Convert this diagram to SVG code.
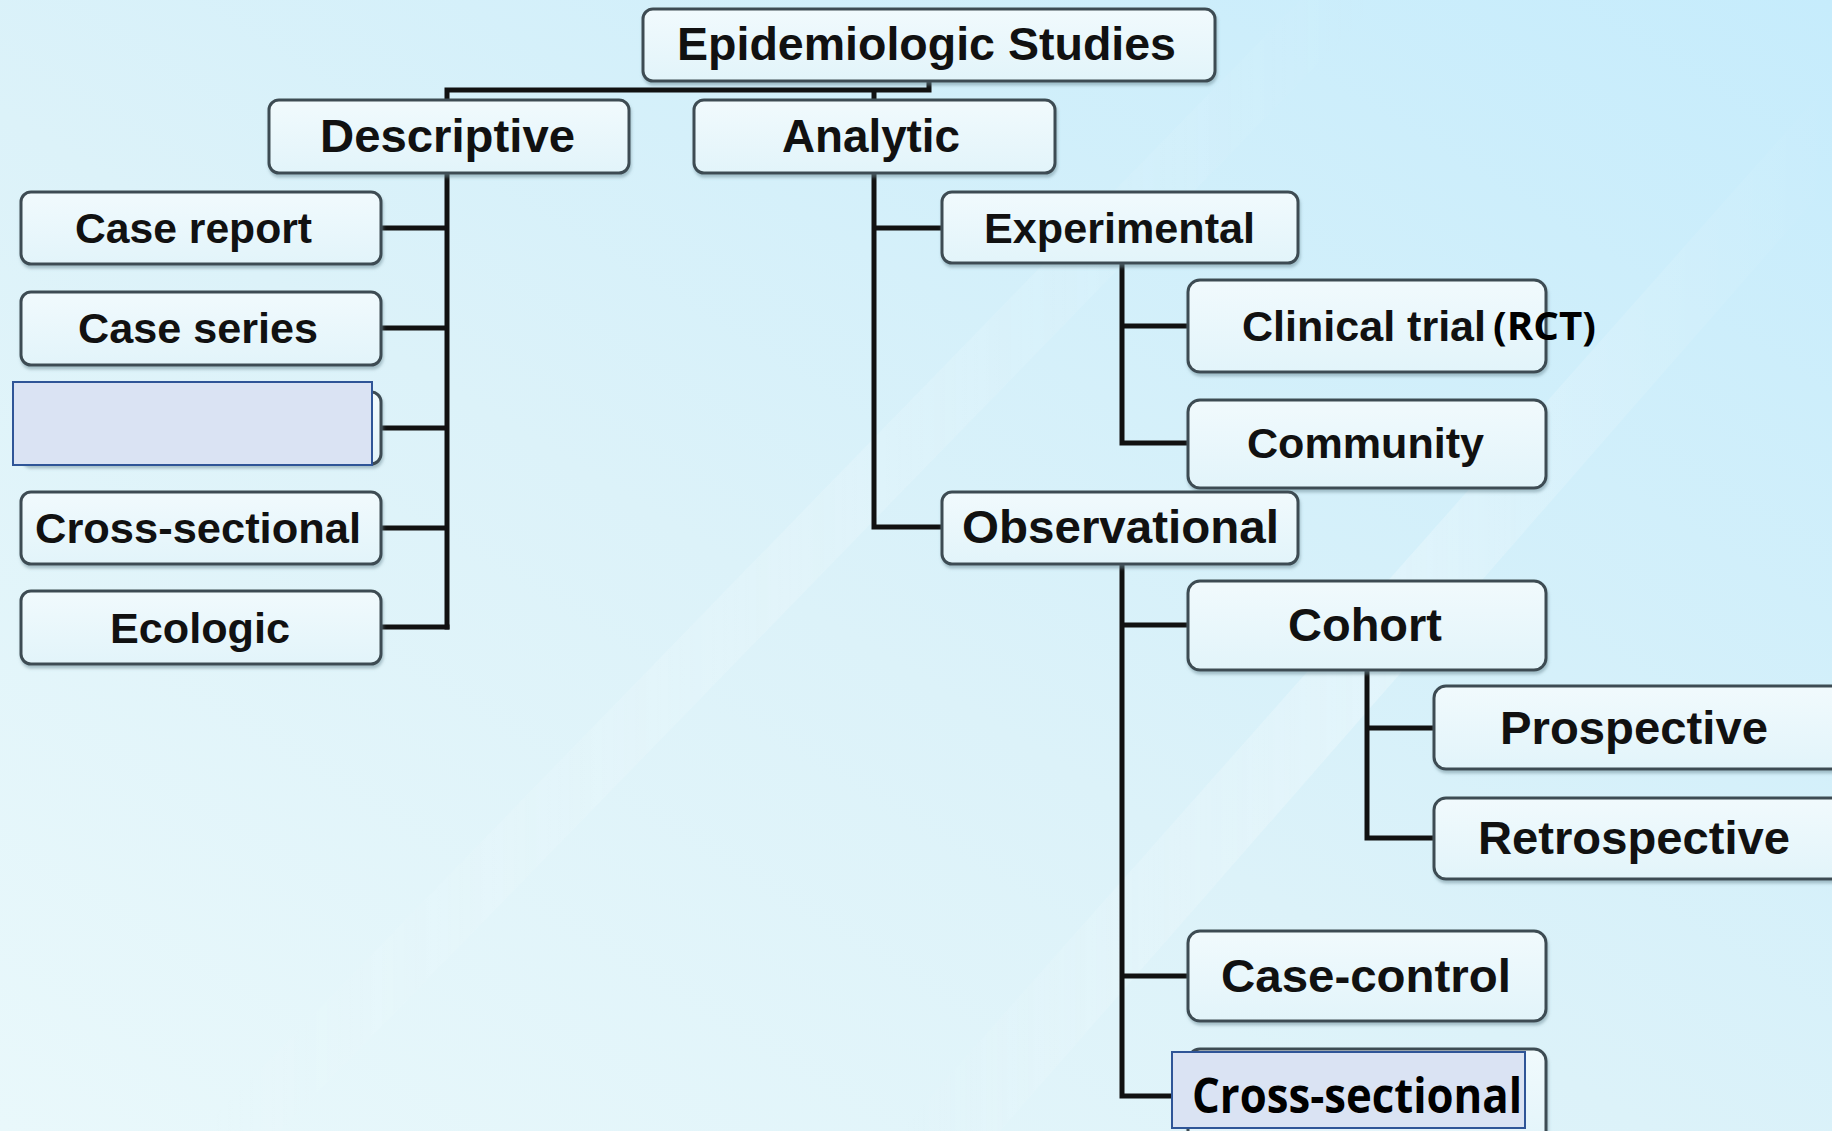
<svg xmlns="http://www.w3.org/2000/svg" width="1832" height="1131" viewBox="0 0 1832 1131">
<defs>
<linearGradient id="bg" x1="0" y1="1" x2="1" y2="0">
<stop offset="0" stop-color="#e9f8fb"/>
<stop offset="0.45" stop-color="#dcf2f9"/>
<stop offset="1" stop-color="#c6ecfc"/>
</linearGradient>
<linearGradient id="streak" x1="0" y1="0" x2="1" y2="0">
<stop offset="0" stop-color="#ffffff" stop-opacity="0"/>
<stop offset="0.5" stop-color="#ffffff" stop-opacity="0.35"/>
<stop offset="1" stop-color="#ffffff" stop-opacity="0"/>
</linearGradient>
<linearGradient id="boxfill" x1="0" y1="0" x2="0" y2="1">
<stop offset="0" stop-color="#f1fafd"/>
<stop offset="1" stop-color="#e2f4fa"/>
</linearGradient>
<filter id="sh" x="-5%" y="-10%" width="110%" height="130%">
<feDropShadow dx="1" dy="3" stdDeviation="1.5" flood-color="#6a8a96" flood-opacity="0.5"/>
</filter>
</defs>
<style>
.box{fill:url(#boxfill);stroke:#3e4c52;stroke-width:3;filter:url(#sh)}
.cover{fill:#dae3f3;stroke:#2f5597;stroke-width:2}
.t{font-family:"Liberation Sans",Arial,sans-serif;font-weight:bold;fill:#111;}
.big{font-size:46px}
.sm{font-size:42px}
.c{font-family:"Open Sans","Liberation Sans",sans-serif;font-weight:bold;fill:#000;}
.ln{fill:none;stroke:#111;stroke-width:5;stroke-linejoin:miter}
</style>
<rect width="1832" height="1131" fill="url(#bg)"/>
<g opacity="0.8">
<polygon points="900,1131 1832,80 1832,180 1000,1131" fill="url(#streak)"/>
<polygon points="200,1131 1300,0 1380,0 280,1131" fill="url(#streak)" opacity="0.6"/>
</g>

<g id="connectors">
<path class="ln" d="M447 100 V90 H929 V81" stroke-width="7"/>
<path class="ln" d="M874 91 V100"/>
<path class="ln" d="M447 173 V629.5"/>
<path class="ln" d="M381 228 H447 M381 328 H447 M381 428 H447 M381 528 H447 M381 627 H449.5"/>
<path class="ln" d="M874 173 V529.5 M874 228 H942 M871.5 527 H942"/>
<path class="ln" d="M1122 263 V445.5 M1122 326 H1188 M1119.5 443 H1188"/>
<path class="ln" d="M1122 564 V1098.5 M1122 625 H1188 M1122 976 H1188 M1119.5 1096 H1172"/>
<path class="ln" d="M1367 670 V840.5 M1367 728 H1434 M1364.5 838 H1434"/>
</g>

<g id="n-epidemiologic">
<rect class="box" x="643" y="9" width="572" height="72" rx="10"/>
<text class="t big" x="677" y="60" textLength="499" lengthAdjust="spacingAndGlyphs">Epidemiologic Studies</text>
</g>
<g id="n-descriptive">
<rect class="box" x="269" y="100" width="360" height="73" rx="10"/>
<text class="t big" x="320" y="152" textLength="255" lengthAdjust="spacingAndGlyphs">Descriptive</text>
</g>
<g id="n-analytic">
<rect class="box" x="694" y="100" width="361" height="73" rx="10"/>
<text class="t big" x="782" y="152" textLength="178" lengthAdjust="spacingAndGlyphs">Analytic</text>
</g>
<g id="n-case-report">
<rect class="box" x="21" y="192" width="360" height="72" rx="10"/>
<text class="t sm" x="75" y="243" textLength="237" lengthAdjust="spacingAndGlyphs">Case report</text>
</g>
<g id="n-case-series">
<rect class="box" x="21" y="292" width="360" height="73" rx="10"/>
<text class="t sm" x="78" y="343" textLength="240" lengthAdjust="spacingAndGlyphs">Case series</text>
</g>
<g id="n-hidden-left">
<rect class="box" x="21" y="392" width="360" height="72" rx="10"/>
<rect class="cover" x="13" y="382" width="359" height="83"/>
</g>
<g id="n-cross-sectional-left">
<rect class="box" x="21" y="492" width="360" height="72" rx="10"/>
<text class="t sm" x="35" y="543" textLength="326" lengthAdjust="spacingAndGlyphs">Cross-sectional</text>
</g>
<g id="n-ecologic">
<rect class="box" x="21" y="591" width="360" height="73" rx="10"/>
<text class="t sm" x="110" y="643" textLength="180" lengthAdjust="spacingAndGlyphs">Ecologic</text>
</g>
<g id="n-experimental">
<rect class="box" x="942" y="192" width="356" height="71" rx="10"/>
<text class="t sm" x="984" y="243" textLength="271" lengthAdjust="spacingAndGlyphs">Experimental</text>
</g>
<g id="n-clinical-trial">
<rect class="box" x="1188" y="280" width="358" height="92" rx="12"/>
<text class="t sm" x="1242" y="341" textLength="244" lengthAdjust="spacingAndGlyphs">Clinical trial</text>
<text class="c" x="1493" y="340" font-size="40" textLength="103" lengthAdjust="spacingAndGlyphs">(RCT)</text>
</g>
<g id="n-community">
<rect class="box" x="1188" y="400" width="358" height="88" rx="12"/>
<text class="t sm" x="1247" y="458" textLength="237" lengthAdjust="spacingAndGlyphs">Community</text>
</g>
<g id="n-observational">
<rect class="box" x="942" y="492" width="356" height="72" rx="10"/>
<text class="t big" x="962" y="543" textLength="317" lengthAdjust="spacingAndGlyphs">Observational</text>
</g>
<g id="n-cohort">
<rect class="box" x="1188" y="581" width="358" height="89" rx="12"/>
<text class="t big" x="1288" y="641" textLength="154" lengthAdjust="spacingAndGlyphs">Cohort</text>
</g>
<g id="n-prospective">
<rect class="box" x="1434" y="686" width="410" height="83" rx="12"/>
<text class="t big" x="1500" y="744" textLength="268" lengthAdjust="spacingAndGlyphs">Prospective</text>
</g>
<g id="n-retrospective">
<rect class="box" x="1434" y="798" width="410" height="81" rx="12"/>
<text class="t big" x="1478" y="854" textLength="312" lengthAdjust="spacingAndGlyphs">Retrospective</text>
</g>
<g id="n-case-control">
<rect class="box" x="1188" y="931" width="358" height="90" rx="12"/>
<text class="t big" x="1221" y="992" textLength="290" lengthAdjust="spacingAndGlyphs">Case-control</text>
</g>
<g id="n-cross-sectional-right">
<rect class="box" x="1188" y="1049" width="358" height="100" rx="12"/>
<rect class="cover" x="1172" y="1052" width="353" height="76"/>
<text class="c" x="1192" y="1113" font-size="48" textLength="330" lengthAdjust="spacingAndGlyphs">Cross-sectional</text>
</g>
</svg>
